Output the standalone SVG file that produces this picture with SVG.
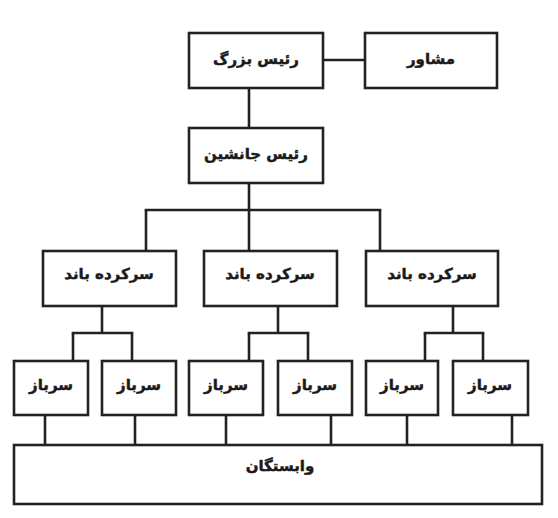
<svg xmlns="http://www.w3.org/2000/svg" width="558" height="518" viewBox="0 0 558 518">
<style>
rect.n{fill:#fff;stroke:#222;stroke-width:2.6}
.c line{stroke:#222;stroke-width:2.6}
text{font-family:"DejaVu Sans",sans-serif;font-weight:bold;font-size:15px;fill:#1a1a1a;stroke:#1a1a1a;stroke-width:0.45;text-anchor:middle;direction:rtl}
</style>
<rect width="558" height="518" fill="#fff"/>
<g class="c" id="connectors">
<line x1="323" y1="60" x2="365" y2="60"/>
<line x1="249" y1="88" x2="249" y2="128"/>
<line x1="249" y1="183" x2="249" y2="251"/>
<line x1="144.7" y1="210" x2="381.3" y2="210"/>
<line x1="146" y1="210" x2="146" y2="251"/>
<line x1="380" y1="210" x2="380" y2="251"/>
<line x1="102" y1="306" x2="102" y2="333"/>
<line x1="71.7" y1="333" x2="133.3" y2="333"/>
<line x1="73" y1="333" x2="73" y2="361"/>
<line x1="132" y1="333" x2="132" y2="361"/>
<line x1="278" y1="306" x2="278" y2="333"/>
<line x1="247.7" y1="333" x2="309.3" y2="333"/>
<line x1="249" y1="333" x2="249" y2="361"/>
<line x1="308" y1="333" x2="308" y2="361"/>
<line x1="453" y1="306" x2="453" y2="333"/>
<line x1="423.7" y1="333" x2="484.3" y2="333"/>
<line x1="425" y1="333" x2="425" y2="361"/>
<line x1="483" y1="333" x2="483" y2="361"/>
<line x1="45" y1="415" x2="45" y2="445"/>
<line x1="135" y1="415" x2="135" y2="445"/>
<line x1="226" y1="415" x2="226" y2="445"/>
<line x1="331" y1="415" x2="331" y2="445"/>
<line x1="407" y1="415" x2="407" y2="445"/>
<line x1="512" y1="415" x2="512" y2="445"/>
</g>
<g id="boss"><rect class="n" x="189" y="33" width="134" height="55"/><text x="256" y="64">رئیس بزرگ</text></g>
<g id="advisor"><rect class="n" x="365" y="33" width="132" height="55"/><text x="431" y="64">مشاور</text></g>
<g id="deputy"><rect class="n" x="189" y="128" width="134" height="55"/><text x="256" y="159">رئیس جانشین</text></g>
<g id="band1"><rect class="n" x="43" y="251" width="133" height="55"/><text x="109" y="279">سرکرده باند</text></g>
<g id="band2"><rect class="n" x="204" y="251" width="133" height="55"/><text x="270" y="279">سرکرده باند</text></g>
<g id="band3"><rect class="n" x="366" y="251" width="132" height="55"/><text x="432" y="279">سرکرده باند</text></g>
<g id="soldier1"><rect class="n" x="14" y="361" width="74" height="54"/><text x="51" y="390">سرباز</text></g>
<g id="soldier2"><rect class="n" x="102" y="361" width="74" height="54"/><text x="139" y="390">سرباز</text></g>
<g id="soldier3"><rect class="n" x="189" y="361" width="74" height="54"/><text x="226" y="390">سرباز</text></g>
<g id="soldier4"><rect class="n" x="278" y="361" width="74" height="54"/><text x="315" y="390">سرباز</text></g>
<g id="soldier5"><rect class="n" x="366" y="361" width="72" height="54"/><text x="402" y="390">سرباز</text></g>
<g id="soldier6"><rect class="n" x="453" y="361" width="75" height="54"/><text x="490" y="390">سرباز</text></g>
<g id="dependents"><rect class="n" x="14" y="445" width="528" height="59"/><text x="280" y="471">وابستگان</text></g>
</svg>
